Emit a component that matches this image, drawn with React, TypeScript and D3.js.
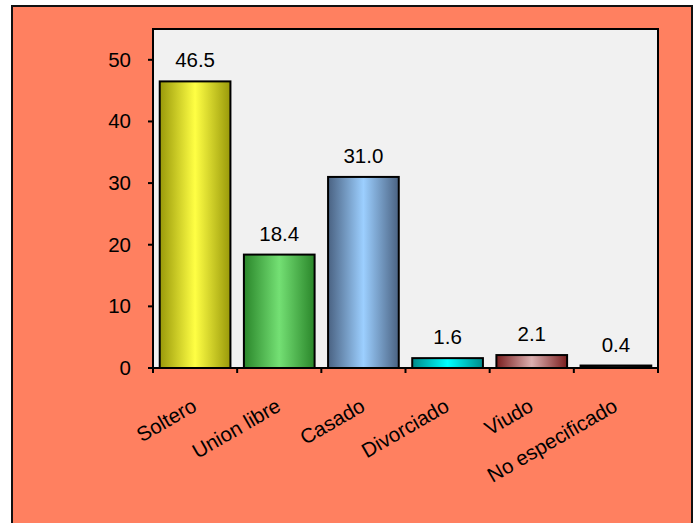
import React from "react";
import * as d3 from "d3";

const categories = ["Soltero", "Union libre", "Casado", "Divorciado", "Viudo", "No especificado"];
const values = [46.5, 18.4, 31.0, 1.6, 2.1, 0.4];
const yTicks = [0, 10, 20, 30, 40, 50];
const edgeColors = ["#99990a", "#2a862a", "#4a6282", "#008a8a", "#7a1e1e", "#000000"];
const centerColors = ["#ffff44", "#74e074", "#9ccfff", "#00ffff", "#dcb0b0", "#202020"];

const W = 698;
const H = 523;
const plot = { left: 153, top: 29, right: 658, bottom: 368 };
const FONT = "'Liberation Sans', Arial, sans-serif";

export default function App() {
  const x = d3
    .scaleBand<string>()
    .domain(categories)
    .range([plot.left, plot.right])
    .paddingInner(0.16)
    .paddingOuter(0.08);
  const xb = d3.scaleBand<string>().domain(categories).range([plot.left, plot.right]);
  const y = d3.scaleLinear().domain([0, 55]).range([plot.bottom, plot.top]);

  return (
    <svg
      width={W}
      height={H}
      style={{ position: "absolute", left: 0, top: 0, background: "#ffffff" }}
      fontFamily={FONT}
    >
      <defs>
        {categories.map((c, i) => (
          <linearGradient key={c} id={`g${i}`} x1="0" x2="1" y1="0" y2="0">
            <stop offset="0" stopColor={edgeColors[i]} />
            <stop offset="0.5" stopColor={centerColors[i]} />
            <stop offset="1" stopColor={edgeColors[i]} />
          </linearGradient>
        ))}
      </defs>
      <rect x={12} y={6} width={680} height={540} fill="#ff8060" stroke="#111" strokeWidth={2} />
      <rect
        x={plot.left}
        y={plot.top}
        width={plot.right - plot.left}
        height={plot.bottom - plot.top}
        fill="#f1f1f1"
        stroke="#000"
        strokeWidth={2}
      />
      {categories.map((c, i) => {
        const bx = x(c)!;
        const by = y(values[i]);
        return (
          <g key={c}>
            <rect
              x={bx}
              y={by}
              width={x.bandwidth()}
              height={plot.bottom - by}
              fill={`url(#g${i})`}
              stroke="#000"
              strokeWidth={2}
            />
            <text
              x={bx + x.bandwidth() / 2}
              y={by - 14}
              textAnchor="middle"
              fontSize={20.5}
              fill="#000"
            >
              {values[i].toFixed(1)}
            </text>
          </g>
        );
      })}
      {/* y axis */}
      <line x1={plot.left} x2={plot.left} y1={plot.top} y2={plot.bottom} stroke="#000" strokeWidth={2} />
      {yTicks.map((t) => (
        <g key={t}>
          <line x1={plot.left - 5} x2={plot.left} y1={y(t)} y2={y(t)} stroke="#000" strokeWidth={2} />
          <text x={plot.left - 22} y={y(t) + 7} textAnchor="end" fontSize={20.5} fill="#000">
            {t}
          </text>
        </g>
      ))}
      {/* x axis */}
      <line x1={plot.left - 1} x2={plot.right + 1} y1={plot.bottom} y2={plot.bottom} stroke="#000" strokeWidth={2} />
      {categories.map((c) => (
        <line
          key={"t" + c}
          x1={xb(c)!}
          x2={xb(c)!}
          y1={plot.bottom}
          y2={plot.bottom + 5}
          stroke="#000"
          strokeWidth={2}
        />
      ))}
      <line x1={plot.right} x2={plot.right} y1={plot.bottom} y2={plot.bottom + 5} stroke="#000" strokeWidth={2} />
      {categories.map((c) => {
        const cx = xb(c)! + xb.bandwidth() / 2;
        return (
          <text
            key={"l" + c}
            transform={`translate(${cx + 3},${410}) rotate(-30)`}
            textAnchor="end"
            fontSize={20.5}
            fill="#000"
          >
            {c}
          </text>
        );
      })}
    </svg>
  );
}
